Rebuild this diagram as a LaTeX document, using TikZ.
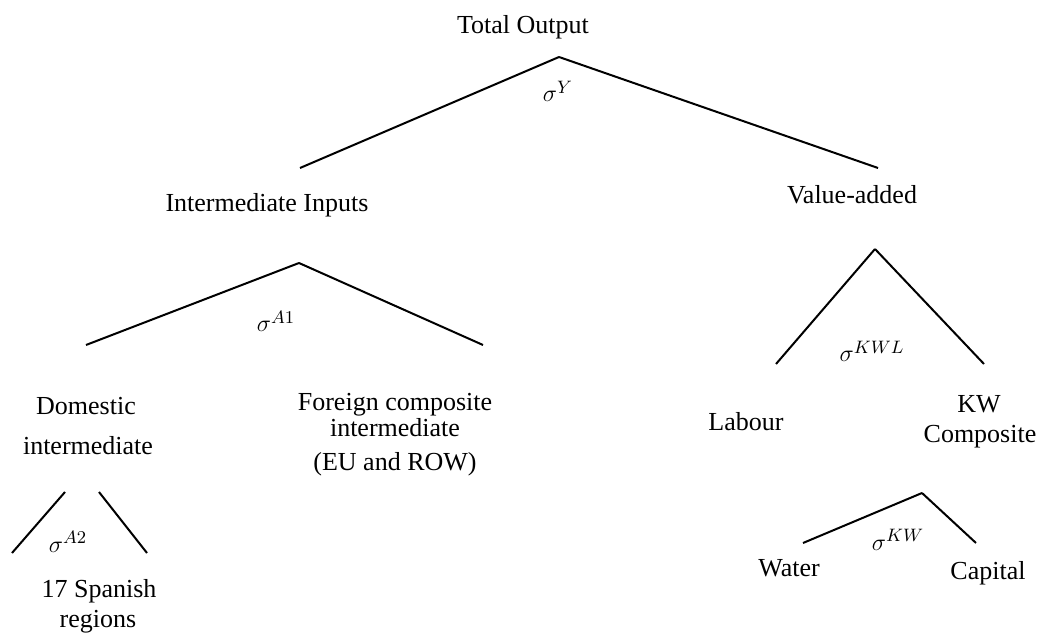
\documentclass[tikz,border=0pt]{standalone}
\usepackage{fontspec}
\setmainfont{Liberation Serif}
\begin{document}
\begin{tikzpicture}[x=0.5pt,y=-0.5pt]
		\tikzstyle{lbl}=[inner sep=0pt,anchor=base,font=\fontsize{13}{15.6}\selectfont]
		\tikzstyle{br}=[line width=1pt]
		\useasboundingbox (0,0) rectangle (1043,640);
		\begin{scope}
		% nests
		\node[lbl] (tot)  at (523,34)  {Total Output};
		\node[lbl] (ii)   at (267,212) {Intermediate Inputs};
		\node[lbl] (va)   at (852,204) {Value-added};
		\node[lbl] (dom)  at (86,415)  {Domestic};
		\node[lbl] (dom2) at (88,455)  {intermediate};
		\node[lbl] (for)  at (395,411) {Foreign composite};
		\node[lbl] (for2) at (395,437) {intermediate};
		\node[lbl] (for3) at (395,471) {(EU and ROW)};
		\node[lbl] (reg)  at (99,597)  {17 Spanish};
		\node[lbl] (reg2) at (98,627)  {regions};
		\node[lbl] (lab)  at (746,431) {Labour};
		\node[lbl] (kw)   at (979,413) {KW};
		\node[lbl] (kw2)  at (980,443) {Composite};
		\node[lbl] (wat)  at (789,576) {Water};
		\node[lbl] (cap)  at (988,579) {Capital};
		% elasticities
		\node[lbl] (sy)   at (558,102) {$\sigma^{Y}$};
		\node[lbl] (sa1)  at (276,332) {$\sigma^{A1}$};
		\node[lbl] (sa2)  at (68,552)  {$\sigma^{A2}$};
		\node[lbl] (skwl) at (872,362) {$\sigma^{KWL}$};
		\node[lbl] (skw)  at (898,550) {$\sigma^{KW}$};
		\end{scope}

		\coordinate (y)   at (559,57);
		\coordinate (y-l) at (300,168);
		\coordinate (y-r) at (878,168);
		\coordinate (a1)   at (299,263);
		\coordinate (a1-l) at (86,345);
		\coordinate (a1-r) at (483,345);
		\coordinate (a2-la) at (65,492);
		\coordinate (a2-lb) at (12,553);
		\coordinate (a2-ra) at (99,492);
		\coordinate (a2-rb) at (147,553);
		\coordinate (kwl)   at (875,249);
		\coordinate (kwl-l) at (776,364);
		\coordinate (kwl-r) at (984,364);
		\coordinate (kwc)   at (922,493);
		\coordinate (kwc-l) at (803,543);
		\coordinate (kwc-r) at (976,543);

		\path[br]
		(y) edge (y-l)
		(y) edge (y-r)
		(a1) edge (a1-l)
		(a1) edge (a1-r)
		(a2-la) edge (a2-lb)
		(a2-ra) edge (a2-rb)
		(kwl) edge (kwl-l)
		(kwl) edge (kwl-r)
		(kwc) edge (kwc-l)
		(kwc) edge (kwc-r)
		;
\end{tikzpicture}
\end{document}
